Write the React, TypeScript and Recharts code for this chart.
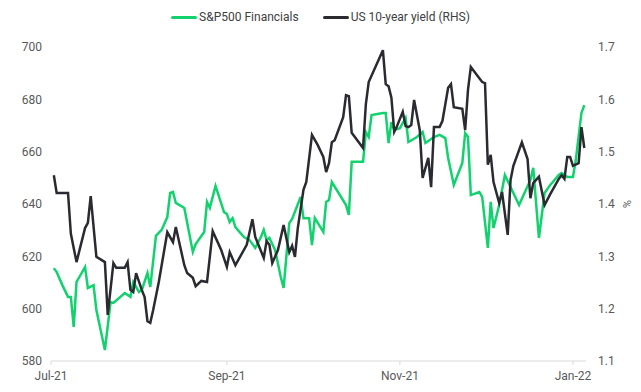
import React from 'react';
import { LineChart, Line, XAxis, YAxis } from 'recharts';

// days counted from 1 Jul 2021
const finDays = [1, 2, 4, 6, 7, 8, 9, 10, 12, 13, 15, 16, 19, 21, 22, 26, 28, 29, 31, 32, 34, 35, 37, 39, 41, 42, 43, 44, 47, 50, 51, 54, 55, 56, 58, 61, 62, 63, 64, 65, 68, 70, 72, 74, 75, 76, 77, 79, 81, 82, 84, 85, 88, 89, 91, 92, 93, 96, 97, 98, 99, 104, 105, 106, 110, 111, 112, 113, 117, 118, 119, 120, 121, 123, 125, 126, 129, 131, 132, 135, 137, 139, 140, 142, 145, 146, 147, 148, 151, 152, 154, 155, 156, 158, 160, 162, 165, 169, 170, 172, 174, 176, 179, 180, 182, 184, 185, 187, 188];
const finValues = [615.5, 614.0, 609.0, 604.5, 604.5, 593.0, 610.2, 612.1, 615.9, 607.9, 609.0, 599.5, 584.2, 602.5, 602.2, 606.0, 604.5, 610.2, 606.4, 607.1, 613.6, 608.3, 627.8, 630.1, 635.0, 644.2, 644.6, 640.4, 638.5, 621.7, 624.7, 629.3, 640.8, 638.5, 646.9, 636.9, 636.2, 633.1, 634.6, 631.2, 627.4, 626.2, 623.2, 627.4, 630.1, 626.2, 627.0, 622.4, 612.1, 607.9, 632.7, 634.3, 642.7, 634.6, 634.6, 624.3, 634.6, 629.3, 640.8, 641.5, 648.4, 639.6, 635.8, 656.1, 656.1, 667.5, 665.6, 674.0, 674.8, 674.8, 663.3, 671.3, 668.3, 669.0, 672.9, 663.7, 665.6, 667.5, 663.3, 665.6, 666.4, 665.2, 657.6, 647.3, 655.7, 667.1, 665.6, 643.4, 644.6, 642.7, 623.2, 640.8, 630.8, 639.6, 651.1, 646.5, 639.6, 649.2, 653.8, 627.0, 644.2, 647.3, 651.1, 651.8, 650.3, 650.3, 656.8, 674.8, 677.8];

const yieldDays = [1, 2, 6, 7, 9, 12, 13, 14, 16, 19, 20, 22, 23, 26, 27, 28, 29, 30, 32, 33, 34, 35, 36, 38, 41, 43, 44, 47, 48, 50, 51, 53, 55, 57, 60, 62, 63, 65, 69, 71, 72, 75, 76, 77, 78, 80, 82, 84, 85, 86, 87, 89, 90, 92, 94, 96, 97, 98, 99, 100, 103, 104, 105, 106, 110, 111, 112, 117, 118, 119, 120, 121, 122, 124, 125, 126, 127, 128, 130, 131, 133, 134, 135, 137, 138, 140, 141, 142, 145, 146, 147, 148, 152, 153, 154, 155, 156, 158, 159, 161, 162, 163, 166, 168, 169, 170, 172, 174, 176, 179, 180, 181, 182, 183, 184, 186, 187, 188];
const yieldValues = [1.455, 1.421, 1.421, 1.343, 1.289, 1.354, 1.364, 1.415, 1.299, 1.289, 1.188, 1.287, 1.278, 1.278, 1.289, 1.236, 1.232, 1.268, 1.236, 1.222, 1.176, 1.173, 1.197, 1.251, 1.346, 1.327, 1.356, 1.283, 1.268, 1.259, 1.243, 1.253, 1.251, 1.348, 1.312, 1.28, 1.308, 1.283, 1.322, 1.371, 1.337, 1.297, 1.329, 1.322, 1.287, 1.312, 1.36, 1.308, 1.32, 1.299, 1.354, 1.427, 1.442, 1.532, 1.513, 1.49, 1.461, 1.478, 1.518, 1.522, 1.566, 1.608, 1.606, 1.536, 1.507, 1.591, 1.633, 1.694, 1.629, 1.625, 1.603, 1.538, 1.549, 1.576, 1.549, 1.547, 1.551, 1.599, 1.541, 1.45, 1.488, 1.432, 1.547, 1.547, 1.559, 1.622, 1.629, 1.585, 1.582, 1.541, 1.618, 1.662, 1.633, 1.631, 1.475, 1.494, 1.442, 1.402, 1.423, 1.341, 1.446, 1.473, 1.518, 1.486, 1.411, 1.44, 1.452, 1.398, 1.419, 1.448, 1.455, 1.448, 1.49, 1.49, 1.473, 1.478, 1.547, 1.507];

const monthTicks = [0, 62, 123, 184];
const monthLabels = ['Jul-21', 'Sep-21', 'Nov-21', 'Jan-22'];
const leftTicks = [580, 600, 620, 640, 660, 680, 700];
const rightTicks = [1.1, 1.2, 1.3, 1.4, 1.5, 1.6, 1.7];

const seriesNames = ['S&P500 Financials', 'US 10-year yield (RHS)'];
const GREEN = '#12d26e';
const DARK = '#2a2a31';
const TEXT = '#595959';
const FONT = 'Roboto, "Noto Sans", sans-serif';

// merge the two day grids into one table
const allDays = Array.from(new Set([...finDays, ...yieldDays])).sort((a, b) => a - b);
const chartData = allDays.map(day => {
  const fi = finDays.indexOf(day);
  const yi = yieldDays.indexOf(day);
  return {
    day,
    fin: fi >= 0 ? finValues[fi] : null,
    yld: yi >= 0 ? yieldValues[yi] : null,
  };
});

const tickStyle = { fontSize: 12, fill: TEXT, fontFamily: FONT };

const PercentLabel = (props: any) => {
  const { viewBox } = props;
  const x = viewBox.x + 40;
  const y = viewBox.y + viewBox.height / 2;
  return (
    <text x={x} y={y} transform={`rotate(90 ${x} ${y})`} textAnchor="middle" dominantBaseline="central"
      fontSize={11} fill={TEXT} fontFamily={FONT}>%</text>
  );
};

const App = () => {
  const colors = [GREEN, DARK];
  return (
    <div style={{ position: 'absolute', left: 0, top: 0, width: 641, height: 392, background: '#fff', fontFamily: FONT }}>
      {/* легенда сверху */}
      <div style={{ position: 'absolute', top: 10, left: 0, width: 641, display: 'flex', justifyContent: 'center', gap: 24, paddingRight: 0 }}>
        {seriesNames.map((name, i) => (
          <div key={name} style={{ display: 'flex', alignItems: 'center' }}>
            <div style={{ width: 26, height: 3, background: colors[i], borderRadius: 2, marginRight: 2 }} />
            <span style={{ fontSize: 12, color: '#404040' }}>{name}</span>
          </div>
        ))}
      </div>
      <LineChart width={641} height={392} data={chartData} margin={{ top: 47, right: 0, bottom: 0, left: 0 }}>
        <XAxis
          dataKey="day"
          type="number"
          domain={[0, 188.6]}
          ticks={monthTicks}
          tickFormatter={(v: number) => monthLabels[monthTicks.indexOf(v)]}
          tick={tickStyle}
          stroke="#d9d9d9"
          tickSize={4}
          tickMargin={6}
          height={31}
          allowDataOverflow
        />
        <YAxis
          yAxisId="left"
          domain={[580, 700]}
          ticks={leftTicks}
          tick={tickStyle}
          axisLine={false}
          tickLine={false}
          tickSize={0}
          tickMargin={9}
          width={51}
        />
        <YAxis
          yAxisId="right"
          orientation="right"
          domain={[1.1, 1.7]}
          ticks={rightTicks}
          tickFormatter={(v: number) => v.toFixed(1)}
          tick={tickStyle}
          axisLine={false}
          tickLine={false}
          tickSize={0}
          tickMargin={12}
          width={55}
          label={<PercentLabel />}
        />
        <Line yAxisId="left" dataKey="fin" stroke={GREEN} strokeWidth={2.5} dot={false} connectNulls isAnimationActive={false} />
        <Line yAxisId="right" dataKey="yld" stroke={DARK} strokeWidth={2.5} dot={false} connectNulls isAnimationActive={false} />
      </LineChart>
    </div>
  );
};

export default App;
